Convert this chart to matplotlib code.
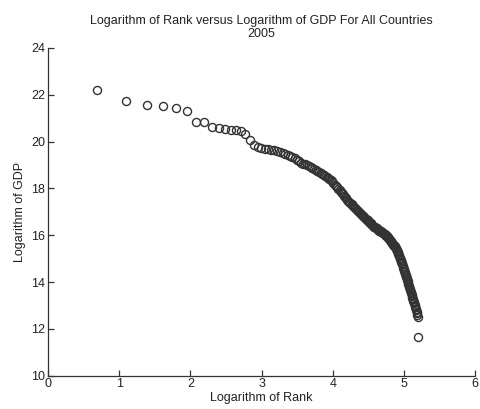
import numpy as np
import matplotlib
matplotlib.use('Agg')
import matplotlib.pyplot as plt

# ranks 2..181, log GDP
ranks = np.arange(2, 182)
log_gdp = [
    22.2, 21.75, 21.55, 21.5, 21.45, 21.3, 20.85, 20.85, 20.62,
    20.58, 20.55, 20.5, 20.48, 20.45, 20.32, 20.05, 19.85, 19.75, 19.72,
    19.70, 19.68, 19.65, 19.62, 19.6, 19.57, 19.52, 19.48, 19.43, 19.38,
    19.34, 19.3, 19.22, 19.15, 19.1, 19.06, 19.02, 18.98, 18.94, 18.9,
    18.86, 18.82, 18.78, 18.74, 18.7, 18.66, 18.62, 18.57, 18.52, 18.48,
    18.44, 18.4, 18.35, 18.3, 18.22, 18.16, 18.10, 18.04, 17.98, 17.92,
    17.86, 17.81, 17.75, 17.69, 17.63, 17.57, 17.51, 17.46, 17.40, 17.36,
    17.32, 17.27, 17.23, 17.19, 17.15, 17.11, 17.06, 17.02, 16.98, 16.94,
    16.91, 16.87, 16.84, 16.81, 16.77, 16.74, 16.71, 16.67, 16.64, 16.6,
    16.57, 16.54, 16.5, 16.47, 16.44, 16.4, 16.37, 16.35, 16.33, 16.31,
    16.29, 16.27, 16.24, 16.22, 16.2, 16.18, 16.16, 16.14, 16.12, 16.1,
    16.08, 16.06, 16.03, 16.01, 15.99, 15.97, 15.95, 15.92, 15.88, 15.85,
    15.82, 15.78, 15.75, 15.72, 15.68, 15.65, 15.62, 15.58, 15.55, 15.52,
    15.48, 15.45, 15.42, 15.38, 15.32, 15.27, 15.21, 15.15, 15.1, 15.04,
    14.98, 14.93, 14.87, 14.81, 14.75, 14.68, 14.62, 14.55, 14.49, 14.42,
    14.36, 14.29, 14.23, 14.16, 14.1, 14.04, 13.97, 13.91, 13.84, 13.78,
    13.71, 13.65, 13.58, 13.52, 13.45, 13.39, 13.33, 13.27, 13.21, 13.15,
    13.09, 13.03, 12.98, 12.92, 12.86, 12.8, 12.74, 12.68, 12.6, 12.52,
    11.65,
]

plt.rcParams['font.family'] = ['Liberation Sans', 'DejaVu Sans']
txt = '#222222'

fig = plt.figure(figsize=(4.8, 4.09), dpi=100)
ax = fig.add_axes([0.1, 0.0814, 0.89, 0.8016])

ax.plot(np.log(ranks), log_gdp, 'o', markerfacecolor='none',
        markeredgecolor='#333333', markersize=5.8, markeredgewidth=1.0)

ax.set_xlim(0, 6)
ax.set_ylim(10, 24)
ax.set_xticks(range(0, 7))
ax.set_yticks(range(10, 25, 2))
ax.spines['top'].set_visible(False)
ax.spines['right'].set_visible(False)
for s in ['left', 'bottom']:
    ax.spines[s].set_color('#333333')
    ax.spines[s].set_linewidth(0.9)
ax.tick_params(direction='in', length=4, width=0.9, colors='#333333',
               labelsize=9, labelcolor=txt, pad=2)

ax.set_xlabel('Logarithm of Rank', fontsize=9, color=txt, labelpad=1)
ax.set_ylabel('Logarithm of GDP', fontsize=9, color=txt, labelpad=4)
ax.set_title('Logarithm of Rank versus Logarithm of GDP For All Countries\n2005',
             fontsize=9, color=txt, pad=8, linespacing=1.1)

plt.savefig('out.png', dpi=100)
